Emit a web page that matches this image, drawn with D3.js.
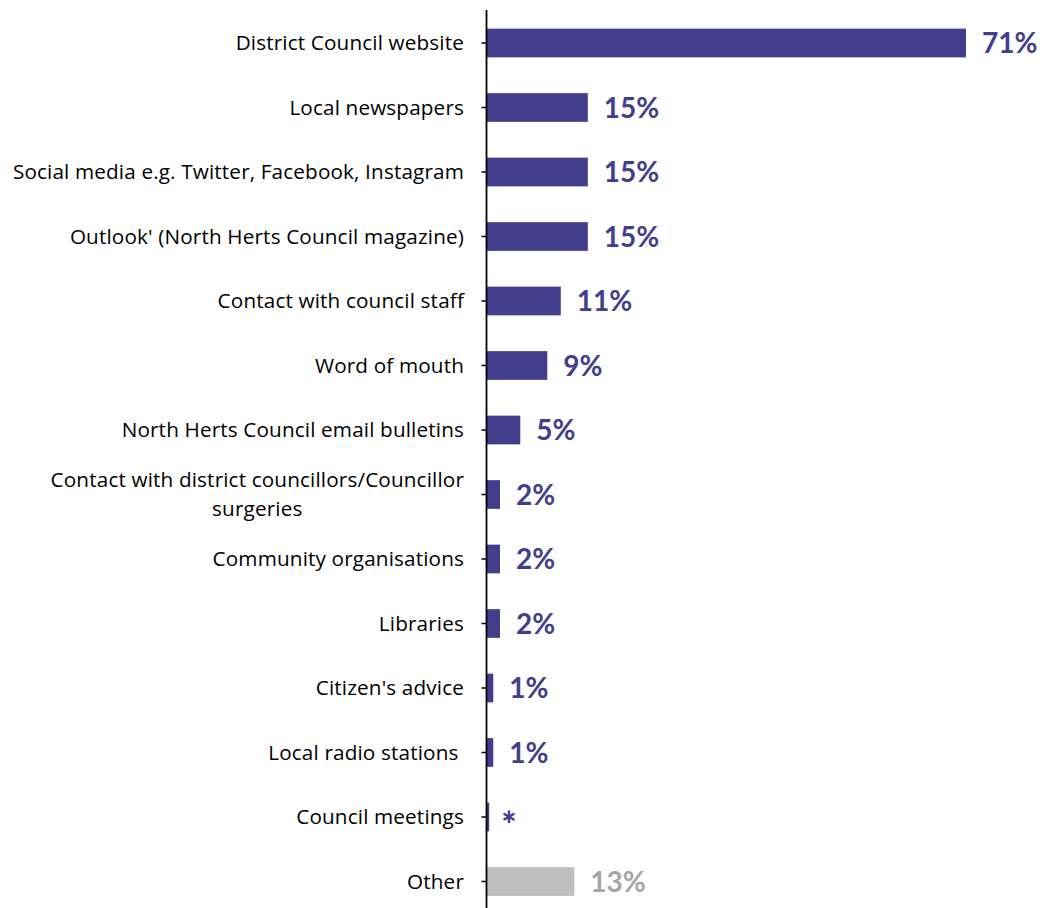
<!DOCTYPE html>
<html>
<head>
<meta charset="utf-8">
<script src="https://cdn.jsdelivr.net/npm/d3@7"></script>
<style>
  html, body { margin: 0; padding: 0; background: #fff; }
  svg { display: block; }
</style>
</head>
<body>
<svg id="chart" width="1045" height="908"></svg>
<script>
// Sources of information about the council (% of respondents)
const categories = [
  "District Council website",
  "Local newspapers",
  "Social media e.g. Twitter, Facebook, Instagram",
  "Outlook' (North Herts Council magazine)",
  "Contact with council staff",
  "Word of mouth",
  "North Herts Council email bulletins",
  "Contact with district councillors/Councillor\nsurgeries",
  "Community organisations",
  "Libraries",
  "Citizen's advice",
  "Local radio stations ",
  "Council meetings",
  "Other"
];
const values = [71, 15, 15, 15, 11, 9, 5, 2, 2, 2, 1, 1, 0.4, 13];
const valueLabels = ["71%", "15%", "15%", "15%", "11%", "9%", "5%", "2%", "2%", "2%", "1%", "1%", "*", "13%"];
const isOther = [false, false, false, false, false, false, false, false, false, false, false, false, false, true];

const mainColor = "#433E8B";
const otherColor = "#BFBFBF";
const otherLabelColor = "#A6A6A6";

const svg = d3.select("#chart");
const axisX = 486.5;

const x = d3.scaleLinear().domain([0, 71]).range([axisX, 966]);
const y = d3.scaleBand()
  .domain(categories)
  .range([10.75, 913.75])
  .paddingInner(0.555)
  .paddingOuter(0.2775);

// Bars
svg.append("g").selectAll("rect")
  .data(categories)
  .join("rect")
  .attr("x", x(0))
  .attr("y", d => y(d))
  .attr("width", (d, i) => x(values[i]) - x(0))
  .attr("height", y.bandwidth())
  .attr("fill", (d, i) => isOther[i] ? otherColor : mainColor);

// Value labels (the asterisk marks a value below 0.5%)
const star = i => valueLabels[i] === "*";
svg.append("g").selectAll("text")
  .data(categories)
  .join("text")
  .attr("x", (d, i) => x(values[i]) + (star(i) ? 12 : 16))
  .attr("y", (d, i) => y(d) + y.bandwidth() / 2 + (star(i) ? 21 : 10))
  .attr("font-family", "Lato, 'Open Sans', sans-serif")
  .attr("font-weight", (d, i) => star(i) ? 900 : 700)
  .attr("font-size", (d, i) => star(i) ? 36 : 28)
  .attr("fill", (d, i) => isOther[i] ? otherLabelColor : mainColor)
  .text((d, i) => valueLabels[i]);

// Category axis
const axis = d3.axisLeft(y).tickSize(5).tickFormat("");
const gAxis = svg.append("g")
  .attr("transform", `translate(${axisX},0)`)
  .call(axis);
gAxis.select(".domain").remove();
gAxis.selectAll(".tick line").attr("stroke", "#000").attr("stroke-width", 1.5);
svg.append("line")
  .attr("x1", axisX).attr("x2", axisX)
  .attr("y1", 10).attr("y2", 908)
  .attr("stroke", "#000").attr("stroke-width", 1.8);

// Category labels (multi-line labels centred on each other, block right-aligned)
const labelRight = 464;
const lineH = 29;
const catG = svg.append("g")
  .attr("font-family", "'Open Sans', Lato, sans-serif")
  .attr("font-size", 20.7)
  .attr("letter-spacing", 0.15)
  .attr("fill", "#000");

categories.forEach(c => {
  const lines = c.split("\n");
  const cy = y(c) + y.bandwidth() / 2;
  const t = catG.append("text")
    .attr("y", cy - (lines.length - 1) * lineH / 2 + 7);
  // keep a trailing space visible by turning it into a no-break space
  const spans = lines.map((ln, k) => t.append("tspan")
    .attr("dy", k === 0 ? 0 : lineH)
    .attr("text-anchor", "middle")
    .text(ln.replace(/ $/, "\u00A0")));
  const widths = spans.map(s => s.node().getComputedTextLength());
  const maxW = d3.max(widths);
  const centre = labelRight - maxW / 2;
  spans.forEach(s => s.attr("x", centre));
});
</script>
</body>
</html>
